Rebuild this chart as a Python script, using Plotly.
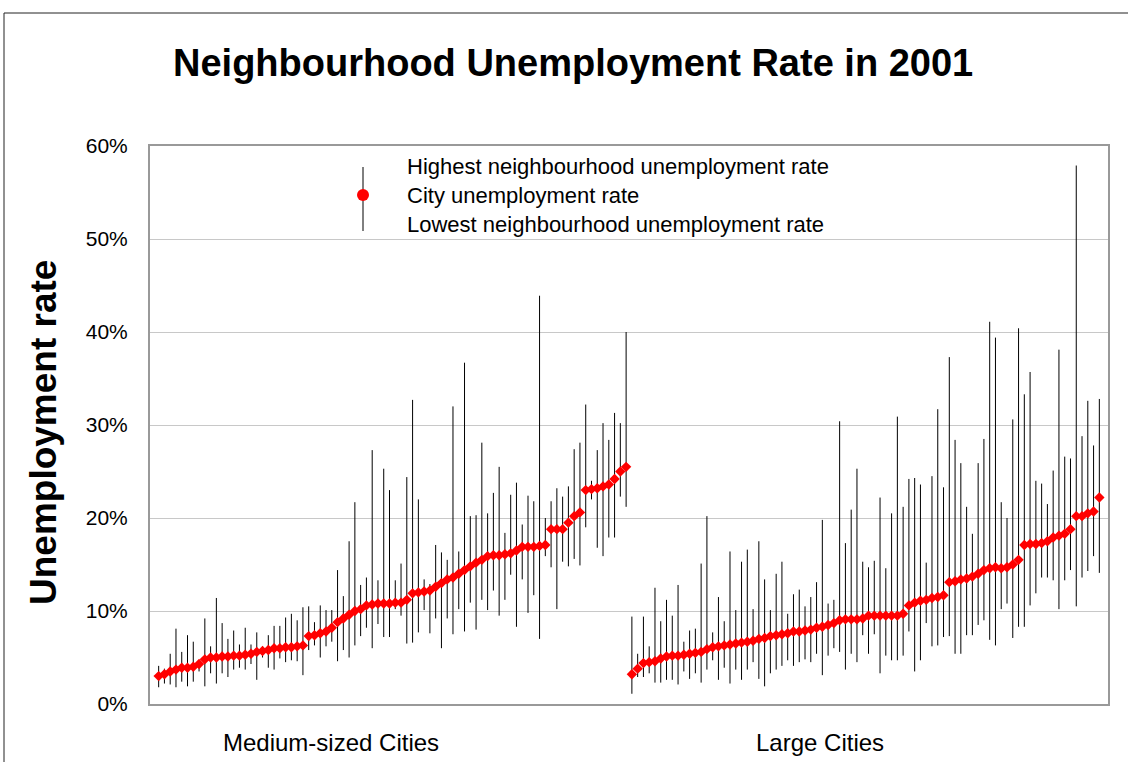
import plotly.graph_objects as go

# Unemployment rates (%) by city, sorted by city rate within each group
medium_city = [3.0, 3.2, 3.5, 3.7, 3.9, 3.9, 4.0, 4.3, 4.8, 5.0, 5.0, 5.1, 5.1, 5.2, 5.2, 5.3, 5.4, 5.6, 5.7, 5.8,
               6.0, 6.0, 6.1, 6.1, 6.2, 6.3, 7.3, 7.4, 7.6, 7.8, 8.2, 8.8, 9.2, 9.6, 10.0, 10.2, 10.6, 10.7, 10.8, 10.8, 10.8,
               10.9, 10.9, 11.2, 11.9, 12.0, 12.1, 12.2, 12.6, 13.0, 13.4, 13.6, 14.0, 14.4, 14.8, 15.2, 15.5, 15.9, 16.0, 16.0, 16.1, 16.2,
               16.5, 16.9, 16.9, 16.9, 17.0, 17.1, 18.8, 18.8, 18.8, 19.5, 20.2, 20.6, 23.0, 23.1, 23.2, 23.4, 23.6, 24.2, 25.0, 25.5]
medium_high = [4.1, 3.8, 5.4, 8.1, 5.6, 7.4, 6.7, 4.6, 9.2, 6.2, 11.4, 8.7, 7.0, 7.9, 6.4, 8.2, 6.4, 7.7, 6.2, 7.4,
               8.4, 8.4, 9.3, 9.7, 9.0, 10.4, 10.5, 8.8, 10.6, 10.1, 10.1, 14.4, 11.6, 17.5, 21.7, 12.8, 13.6, 27.3, 13.3, 25.3, 23.0,
               13.3, 15.1, 24.4, 32.7, 22.0, 13.4, 12.9, 17.1, 16.3, 15.5, 32.0, 16.4, 36.7, 20.2, 20.3, 28.1, 20.5, 22.7, 25.5, 18.4, 22.5,
               23.8, 19.3, 22.4, 21.8, 43.9, 20.0, 21.8, 23.2, 22.3, 23.4, 27.4, 28.1, 32.2, 24.0, 27.3, 30.2, 28.4, 31.3, 30.2, 40.0]
medium_low = [1.8, 2.2, 2.1, 1.8, 2.4, 1.9, 2.4, 3.5, 1.9, 3.3, 2.2, 3.3, 2.9, 3.7, 3.9, 3.7, 4.3, 2.6, 5.0, 3.9,
              3.7, 4.9, 4.5, 4.7, 4.6, 3.1, 5.8, 6.3, 5.0, 6.2, 6.7, 4.6, 5.8, 5.0, 6.3, 7.3, 8.2, 6.0, 8.6, 7.2, 7.2,
              10.2, 9.5, 6.5, 6.6, 7.7, 10.1, 7.6, 9.2, 6.0, 9.2, 7.5, 10.2, 7.8, 10.9, 8.0, 11.2, 10.1, 12.2, 9.5, 11.2, 13.9,
              8.3, 13.4, 9.8, 11.7, 7.0, 15.9, 14.7, 10.2, 15.3, 14.8, 15.6, 14.9, 19.0, 22.0, 16.8, 15.9, 17.9, 17.9, 22.3, 21.2]

large_city = [3.2, 3.8, 4.4, 4.5, 4.6, 4.9, 5.1, 5.2, 5.2, 5.3, 5.4, 5.5, 5.6, 5.9, 6.1, 6.2, 6.3, 6.4, 6.5, 6.6, 6.7,
              6.8, 7.0, 7.1, 7.3, 7.4, 7.5, 7.6, 7.8, 7.8, 7.9, 8.0, 8.2, 8.3, 8.5, 8.7, 9.0, 9.1, 9.1, 9.1, 9.2, 9.5,
              9.5, 9.5, 9.5, 9.5, 9.5, 9.7, 10.6, 10.9, 11.1, 11.2, 11.4, 11.5, 11.7, 13.1, 13.2, 13.4, 13.5, 13.7, 14.0, 14.4, 14.6,
              14.7, 14.6, 14.7, 15.0, 15.5, 17.1, 17.2, 17.2, 17.3, 17.5, 17.9, 18.1, 18.3, 18.8, 20.2, 20.2, 20.5, 20.7, 22.2]
large_high = [9.4, 5.4, 9.4, 6.2, 12.5, 8.9, 11.2, 9.5, 12.8, 6.7, 7.9, 8.1, 15.1, 20.2, 7.7, 11.5, 8.9, 16.4, 10.1, 15.3, 16.6,
              10.2, 17.5, 13.4, 10.1, 14.0, 15.3, 9.7, 11.8, 12.3, 10.5, 11.5, 13.1, 19.8, 10.8, 11.2, 30.4, 17.3, 20.9, 25.3, 15.3, 14.7,
              15.4, 22.2, 14.6, 20.5, 30.9, 21.2, 24.2, 24.3, 23.6, 15.2, 24.5, 31.7, 23.3, 37.3, 28.4, 25.9, 21.2, 18.3, 25.9, 28.5, 41.1,
              39.4, 21.7, 20.0, 30.6, 40.4, 33.3, 35.7, 24.0, 23.7, 21.5, 25.1, 38.1, 26.6, 26.4, 57.9, 28.8, 32.6, 27.8, 32.8]
large_low = [1.1, 2.9, 2.9, 3.3, 2.3, 2.3, 2.6, 2.6, 2.1, 3.5, 2.7, 3.3, 2.3, 3.7, 4.7, 2.6, 3.9, 2.2, 3.7, 2.6, 3.7,
             4.5, 2.7, 1.9, 3.3, 3.7, 4.1, 4.7, 4.1, 4.5, 4.8, 4.5, 5.4, 3.1, 5.2, 6.0, 5.6, 3.7, 5.4, 4.5, 7.4, 5.4,
             7.5, 3.3, 5.2, 4.7, 4.7, 5.2, 7.8, 3.5, 4.7, 8.7, 6.2, 6.3, 7.2, 7.3, 5.4, 5.4, 7.4, 7.4, 8.5, 9.0, 6.9,
             6.3, 10.2, 10.8, 7.1, 8.3, 8.3, 10.6, 11.9, 13.6, 13.6, 13.3, 10.2, 13.3, 14.4, 10.5, 13.6, 14.3, 15.9, 14.1]

group_labels = ["Medium-sized Cities", "Large Cities"]
y_ticks = [0, 10, 20, 30, 40, 50, 60]

city = medium_city + large_city
high = medium_high + large_high
low = medium_low + large_low
xs = list(range(1, len(city) + 1))

# High-low ranges as vertical segments
seg_x, seg_y = [], []
for x, lo, hi in zip(xs, low, high):
    seg_x += [x, x, None]
    seg_y += [lo, hi, None]

FONT = "Liberation Sans, Arial, sans-serif"

fig = go.Figure()
fig.add_trace(go.Scatter(x=seg_x, y=seg_y, mode="lines",
                         line=dict(color="#000000", width=1),
                         hoverinfo="skip", showlegend=False))
fig.add_trace(go.Scatter(x=xs, y=city, mode="markers",
                         marker=dict(symbol="diamond", size=8, color="#FF0000",
                                     line=dict(width=0)),
                         showlegend=False))

W, H = 1128, 762
L, R, T, B = 150, 20, 146, 58
pw, ph = W - L - R, H - T - B


def px(x):
    return (x - L) / pw


def py(y):
    return (H - B - y) / ph


shapes = [
    # outer chart frame
    dict(type="rect", xref="paper", yref="paper", x0=px(4), x1=px(1140), y0=py(775), y1=py(13),
         line=dict(color="#222222", width=1), layer="below"),
    # legend background
    dict(type="rect", xref="paper", yref="paper", x0=px(400), x1=px(867), y0=py(242), y1=py(148),
         fillcolor="white", line=dict(width=0), layer="between"),
    # legend symbol: range line and city marker
    dict(type="line", xref="paper", yref="paper", x0=px(363), x1=px(363), y0=py(231), y1=py(167),
         line=dict(color="#000000", width=1)),
    dict(type="circle", xref="paper", yref="paper", x0=px(357), x1=px(369), y0=py(201), y1=py(189),
         fillcolor="#FF0000", line=dict(width=0)),
]

legend_text = ["Highest neighbourhood unemployment rate",
               "City unemployment rate",
               "Lowest neighbourhood unemployment rate"]
annotations = []
for txt, yc in zip(legend_text, [167, 196, 225]):
    annotations.append(dict(text=txt, xref="paper", yref="paper", x=px(405), y=py(yc),
                            xanchor="left", yanchor="middle", showarrow=False,
                            font=dict(family=FONT, size=22, color="#000000")))
for txt, xc in zip(group_labels, [331, 820]):
    annotations.append(dict(text=txt, xref="paper", yref="paper", x=px(xc), y=py(742),
                            xanchor="center", yanchor="middle", showarrow=False,
                            font=dict(family=FONT, size=24, color="#000000")))
annotations.append(dict(text="<b>Neighbourhood Unemployment Rate in 2001</b>", xref="paper", yref="paper",
                        x=px(573), y=py(63), xanchor="center", yanchor="middle", showarrow=False,
                        font=dict(family=FONT, size=38, color="#000000")))
annotations.append(dict(text="<b>Unemployment rate</b>", xref="paper", yref="paper",
                        x=px(43), y=py(433), xanchor="center", yanchor="middle", showarrow=False,
                        textangle=-90, font=dict(family=FONT, size=37, color="#000000")))

fig.update_layout(
    width=W, height=H,
    margin=dict(l=L, r=R, t=T, b=B),
    paper_bgcolor="white", plot_bgcolor="white",
    shapes=shapes, annotations=annotations,
    showlegend=False,
)
fig.update_xaxes(range=[-0.5, len(city) + 1.5], showticklabels=False, showgrid=False,
                 zeroline=False, showline=True, linecolor="#999999", linewidth=2, mirror=True, ticks="")
fig.update_yaxes(range=[0, 60], tickvals=y_ticks, ticktext=[f"{v}%" for v in y_ticks],
                 showgrid=True, gridcolor="#C8C8C8", gridwidth=1, zeroline=False,
                 showline=True, linecolor="#999999", linewidth=2, mirror=True, ticks="",
                 ticklabelstandoff=16, tickfont=dict(family=FONT, size=21, color="#000000"))

fig.write_html("out.html")
